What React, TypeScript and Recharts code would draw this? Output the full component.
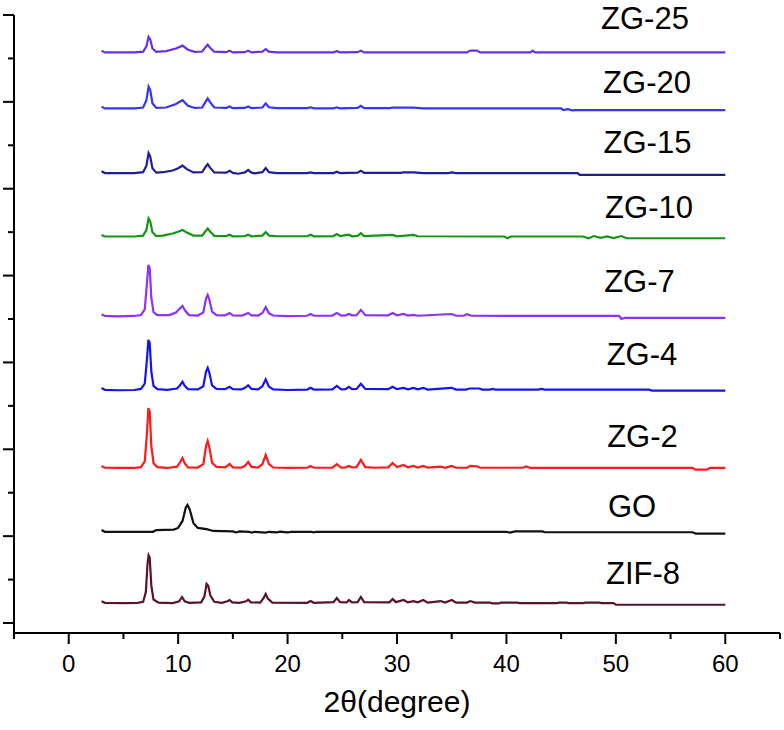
import { LineChart, Line, XAxis, YAxis, ReferenceDot } from "recharts";

type Pt = [number, number];

// 2θ (deg) vs intensity (counts, above each pattern's own baseline)
const zif8: Pt[] = [
    [3.0, 40], [3.3, 5], [5.0, 0], [6.3, 5], [6.8, 30], [7.05, 250], [7.2, 900], [7.3, 1100], [7.4, 1050],
    [7.55, 400], [7.75, 80], [8.2, 10], [9.5, 0], [10.1, 40], [10.35, 140], [10.6, 40], [11.0, 5], [12.1, 15],
    [12.4, 150], [12.6, 440], [12.75, 400], [12.95, 170], [13.3, 30], [14.0, 5], [14.5, 40], [14.7, 70],
    [14.95, 15], [15.6, 5], [16.2, 40], [16.4, 75], [16.65, 15], [17.5, 10], [17.8, 110], [18.0, 210],
    [18.2, 100], [18.6, 10], [21.8, 5], [22.1, 45], [22.4, 5], [24.2, 20], [24.5, 115], [24.8, 20],
    [25.4, 15], [25.6, 70], [25.9, 15], [26.4, 20], [26.7, 140], [27.0, 20], [29.3, 15], [29.6, 90],
    [29.9, 20], [30.6, 70], [31.0, 15], [31.5, 45], [31.9, 15], [32.4, 70], [32.8, 10], [34.0, 45],
    [34.4, 10], [35.0, 70], [35.4, 10], [36.4, 10], [36.7, 45], [37.1, 10], [38.5, 10], [38.7, -10],
    [39.3, -10], [39.5, 10], [41.0, 10], [41.2, 0], [44.6, 0], [44.8, 10], [45.5, 10], [45.7, 0], [47.0, 0],
    [47.2, 10], [48.5, 10], [48.7, 0], [49.8, 0], [50.0, -40], [60, -40],
];

const go: Pt[] = [
    [3.0, 40], [3.3, 0], [7.7, 0], [8.0, 40], [9.6, 50], [10.0, 90], [10.4, 250], [10.7, 560], [10.85, 620],
    [11.05, 520], [11.4, 200], [11.8, 90], [12.6, 60], [13.2, 20], [15.0, 10], [15.3, -15], [15.6, 10],
    [16.5, 0], [16.7, -20], [17.0, 0], [18.0, -20], [18.3, 0], [19.0, -15], [19.3, 5], [20.0, -15],
    [20.3, 0], [22.2, 0], [22.4, -15], [22.6, 0], [40.0, 0], [40.3, -20], [40.8, 10], [43.3, 10],
    [43.5, -10], [57.0, -10], [57.3, -40], [60, -40],
];

const zg2: Pt[] = [
    [3.0, 45], [3.3, 5], [4.5, 0], [6.0, 0], [6.6, 20], [6.95, 150], [7.15, 800], [7.28, 1380], [7.4, 1300],
    [7.55, 500], [7.75, 110], [8.1, 20], [9.0, 0], [9.9, 30], [10.15, 120], [10.4, 230], [10.6, 110],
    [10.9, 15], [11.8, 10], [12.3, 90], [12.55, 500], [12.7, 620], [12.85, 480], [13.1, 120], [13.5, 25],
    [14.3, 15], [14.7, 90], [15.0, 15], [15.8, 10], [16.15, 60], [16.4, 140], [16.7, 25], [17.3, 10],
    [17.7, 90], [18.0, 300], [18.3, 90], [18.7, 10], [20.0, 0], [21.8, 5], [22.1, 45], [22.4, 5],
    [24.1, 10], [24.5, 90], [24.9, 10], [25.3, 15], [25.6, 45], [25.9, 15], [26.3, 20], [26.7, 185],
    [27.1, 20], [28.0, 5], [29.2, 15], [29.6, 115], [30.0, 20], [30.6, 70], [31.0, 15], [31.5, 45],
    [31.9, 10], [32.4, 45], [32.8, 10], [34.0, 30], [34.4, 5], [35.0, 45], [35.4, 5], [36.4, 5], [36.7, 50],
    [37.3, 40], [37.6, 5], [41.5, 5], [41.8, 35], [42.2, 0], [57.0, 0], [57.3, -40], [58.3, -40],
    [58.6, 0], [60, 0],
];

const zg4: Pt[] = [
    [3.0, 40], [3.3, 0], [4.5, -10], [6.0, -5], [6.6, 20], [6.95, 140], [7.15, 700], [7.28, 1150],
    [7.4, 1080], [7.55, 420], [7.75, 90], [8.1, 15], [9.0, 0], [9.9, 30], [10.15, 100], [10.4, 185],
    [10.6, 90], [10.9, 15], [11.8, 10], [12.3, 80], [12.55, 420], [12.7, 505], [12.85, 390], [13.1, 100],
    [13.5, 20], [14.3, 15], [14.7, 70], [15.0, 15], [15.8, 10], [16.15, 50], [16.4, 105], [16.7, 20],
    [17.3, 10], [17.7, 80], [18.0, 240], [18.3, 70], [18.7, 10], [20.0, -5], [21.8, 5], [22.1, 45],
    [22.4, 5], [24.1, 10], [24.5, 90], [24.9, 10], [25.3, 15], [25.6, 70], [25.9, 15], [26.3, 20],
    [26.7, 140], [27.1, 20], [29.2, 15], [29.6, 70], [30.0, 15], [30.6, 45], [31.0, 10], [31.5, 45],
    [31.9, 10], [32.4, 45], [32.8, 5], [35.0, 45], [35.4, 5], [36.3, 5], [36.6, 30], [37.5, 30], [37.8, 5],
    [38.5, 5], [38.7, 20], [39.0, 5], [42.9, 5], [43.2, 20], [43.5, 5], [53.0, 5], [53.3, -20], [60, -20],
];

const zg7: Pt[] = [
    [3.0, 40], [3.3, 0], [4.5, -10], [6.0, 0], [6.6, 20], [6.95, 150], [7.15, 750], [7.28, 1175],
    [7.4, 1100], [7.55, 420], [7.75, 90], [8.1, 20], [9.2, 20], [9.8, 80], [10.15, 170], [10.4, 230],
    [10.65, 120], [11.0, 20], [11.8, 10], [12.3, 80], [12.55, 400], [12.7, 485], [12.85, 380], [13.1, 100],
    [13.5, 20], [14.3, 15], [14.7, 70], [15.0, 15], [15.8, 10], [16.15, 40], [16.4, 70], [16.7, 15],
    [17.3, 10], [17.7, 70], [18.0, 205], [18.3, 60], [18.7, 10], [20.0, -5], [21.8, 5], [22.1, 45],
    [22.4, 5], [24.1, 10], [24.5, 70], [24.9, 10], [25.3, 15], [25.6, 45], [25.9, 15], [26.3, 20],
    [26.7, 140], [27.1, 20], [29.2, 15], [29.6, 70], [30.0, 15], [30.6, 45], [31.0, 10], [31.5, 25],
    [31.9, 5], [35.0, 45], [35.4, 5], [36.1, 5], [36.4, 40], [36.8, 5], [50.3, 0], [50.5, -70], [50.8, -45],
    [60, -45],
];

const zg10: Pt[] = [
    [3.0, 35], [3.3, 0], [6.0, 0], [6.8, 20], [7.1, 150], [7.3, 415], [7.45, 350], [7.65, 100], [8.0, 10],
    [8.6, 20], [9.5, 70], [10.0, 110], [10.4, 150], [10.8, 90], [11.4, 20], [12.2, 20], [12.5, 120],
    [12.7, 185], [12.9, 120], [13.3, 15], [14.4, 10], [14.7, 40], [15.0, 5], [16.1, 10], [16.4, 40],
    [16.7, 5], [17.7, 20], [18.0, 100], [18.3, 20], [19.0, 5], [21.8, 5], [22.1, 40], [22.4, 5],
    [24.2, 10], [24.5, 55], [24.8, 10], [25.6, 40], [25.9, 5], [26.4, 15], [26.7, 75], [27.0, 10],
    [29.6, 35], [30.0, 5], [31.5, 35], [31.9, 5], [39.8, 0], [40.1, -40], [40.4, 0], [47.0, 0],
    [47.5, -40], [48.0, 10], [48.6, -30], [49.2, 0], [49.8, -35], [50.5, 10], [51.0, -40], [60, -40],
];

const zg15: Pt[] = [
    [3.0, 40], [3.3, 0], [6.0, 0], [6.8, 20], [7.1, 170], [7.3, 460], [7.45, 380], [7.65, 110], [8.0, 10],
    [8.6, 20], [9.5, 60], [10.0, 110], [10.4, 170], [10.8, 90], [11.4, 15], [12.2, 20], [12.5, 140],
    [12.7, 205], [12.9, 130], [13.3, 15], [14.4, 10], [14.7, 55], [15.0, 5], [15.5, -15], [16.1, 15],
    [16.4, 75], [16.7, 10], [17.0, -5], [17.7, 20], [18.0, 115], [18.3, 20], [19.0, 0], [21.8, 0], [22.1, 15],
    [22.4, 0], [24.2, 0], [24.5, 30], [24.8, 0], [26.4, 10], [26.7, 55], [27.0, 5], [30.3, 5], [30.6, 15],
    [31.5, 15], [32.4, 0], [34.7, 0], [35.0, 15], [35.4, 0], [46.5, 0], [46.7, -40], [60, -40],
];

const zg20: Pt[] = [
    [3.0, 40], [3.3, 0], [6.0, 0], [6.8, 20], [7.1, 190], [7.3, 500], [7.45, 420], [7.65, 120], [8.0, 10],
    [8.9, 20], [9.8, 100], [10.4, 190], [10.9, 60], [11.5, 10], [12.2, 20], [12.5, 150], [12.7, 230],
    [12.9, 150], [13.3, 20], [14.4, 10], [14.7, 45], [15.0, 5], [16.1, 10], [16.4, 45], [16.7, 5],
    [17.7, 20], [18.0, 115], [18.3, 25], [19.0, 5], [21.8, 5], [22.1, 25], [22.4, 0], [24.2, 0], [24.5, 25],
    [24.8, 0], [26.4, 10], [26.7, 60], [27.0, 5], [29.3, 5], [29.6, 15], [30.6, 15], [31.5, 15], [32.4, 0],
    [45.0, 0], [45.2, -40], [45.6, -20], [46.0, -45], [46.4, -40], [60, -40],
];

const zg25: Pt[] = [
    [3.0, 40], [3.3, 0], [6.0, 0], [6.8, 15], [7.1, 140], [7.3, 360], [7.45, 300], [7.65, 90], [8.0, 10],
    [8.9, 30], [9.8, 90], [10.4, 155], [10.9, 60], [11.5, 10], [12.2, 20], [12.5, 120], [12.7, 175],
    [12.9, 110], [13.3, 15], [14.4, 5], [14.7, 40], [15.0, 0], [16.1, 5], [16.4, 40], [16.7, 0],
    [17.7, 15], [18.0, 75], [18.3, 15], [19.0, 0], [24.2, 0], [24.5, 25], [24.8, 0], [26.4, 5], [26.7, 40],
    [27.0, 0], [36.4, 0], [36.7, 40], [37.3, 40], [37.6, 0], [42.2, 0], [42.4, 40], [42.6, 0], [60, 0],
];

const names = ["ZIF-8", "GO", "ZG-2", "ZG-4", "ZG-7", "ZG-10", "ZG-15", "ZG-20", "ZG-25"];
const patterns = [zif8, go, zg2, zg4, zg7, zg10, zg15, zg20, zg25];
// vertical stacking offsets
const offsets = [460, 2100, 3570, 5370, 7070, 8900, 10360, 11850, 13140];
const colors = ["#5A1428", "#111111", "#FF1A1A", "#1414F5", "#8C32FA", "#139613", "#1E1E96", "#3535F5", "#6630F0"];

// where the sample names sit (data coords, text centred)
const labelX = [52.48, 51.48, 52.43, 52.39, 52.16, 53.03, 52.89, 52.85, 52.66];
const labelY = [1152, 2694, 4307, 6184, 7876, 9569, 11077, 12448, 13920];

const xTicks = [-5, 0, 5, 10, 15, 20, 25, 30, 35, 40, 45, 50, 55, 60, 65];
const yTicks = [0, 1000, 2000, 3000, 4000, 5000, 6000, 7000, 8000, 9000, 10000, 11000, 12000, 13000, 14000];

const series = patterns.map((p, i) => p.map(([x, y]) => ({x, y: y + offsets[i]})));

const XTick = (props: any) => {
    const {x, y, payload} = props;
    const major = payload.value % 10 === 0;
    return (
        <g>
            <line x1={x} y1={y} x2={x} y2={y + (major ? 11 : 6)} stroke="#000" strokeWidth={2}/>
            {major && (
                <text x={x} y={y + 39} textAnchor="middle" fontSize={24} fill="#000">
                    {payload.value}
                </text>
            )}
        </g>
    );
};

const YTick = (props: any) => {
    const {x, y, payload} = props;
    const major = (payload.value / 1000) % 2 === 0;
    return <line x1={x - (major ? 11 : 6)} y1={y} x2={x} y2={y} stroke="#000" strokeWidth={2}/>;
};

export default function App() {
    return (
        <div style={{position: "absolute", left: 0, top: 0, fontFamily: "Arial, 'Liberation Sans', sans-serif"}}>
            <LineChart width={784} height={730} margin={{top: 15, right: 4, bottom: 0, left: 0}}>
                <XAxis
                    type="number"
                    dataKey="x"
                    domain={[-5, 65]}
                    allowDataOverflow
                    ticks={xTicks}
                    interval={0}
                    tickSize={0}
                    tickMargin={0}
                    tickLine={false}
                    tick={<XTick/>}
                    height={97}
                    axisLine={{stroke: "#000", strokeWidth: 2}}
                    label={{value: "2θ(degree)", position: "insideBottom", offset: 18, fontSize: 30, fill: "#000"}}
                />
                <YAxis
                    type="number"
                    domain={[-230, 14000]}
                    allowDataOverflow
                    ticks={yTicks}
                    interval={0}
                    tickSize={0}
                    tickMargin={0}
                    tickLine={false}
                    tick={<YTick/>}
                    width={14}
                    axisLine={{stroke: "#000", strokeWidth: 2}}
                />
                {series.map((d, i) => (
                    <Line
                        key={names[i]}
                        data={d}
                        dataKey="y"
                        type="linear"
                        stroke={colors[i]}
                        strokeWidth={2.2}
                        dot={false}
                        isAnimationActive={false}
                    />
                ))}
                {names.map((n, i) => (
                    <ReferenceDot
                        key={"lbl" + n}
                        x={labelX[i]}
                        y={labelY[i]}
                        r={0}
                        fill="none"
                        stroke="none"
                        ifOverflow="visible"
                        label={{value: n, position: "center", fontSize: 31, fill: "#000"}}
                    />
                ))}
            </LineChart>
        </div>
    );
}
